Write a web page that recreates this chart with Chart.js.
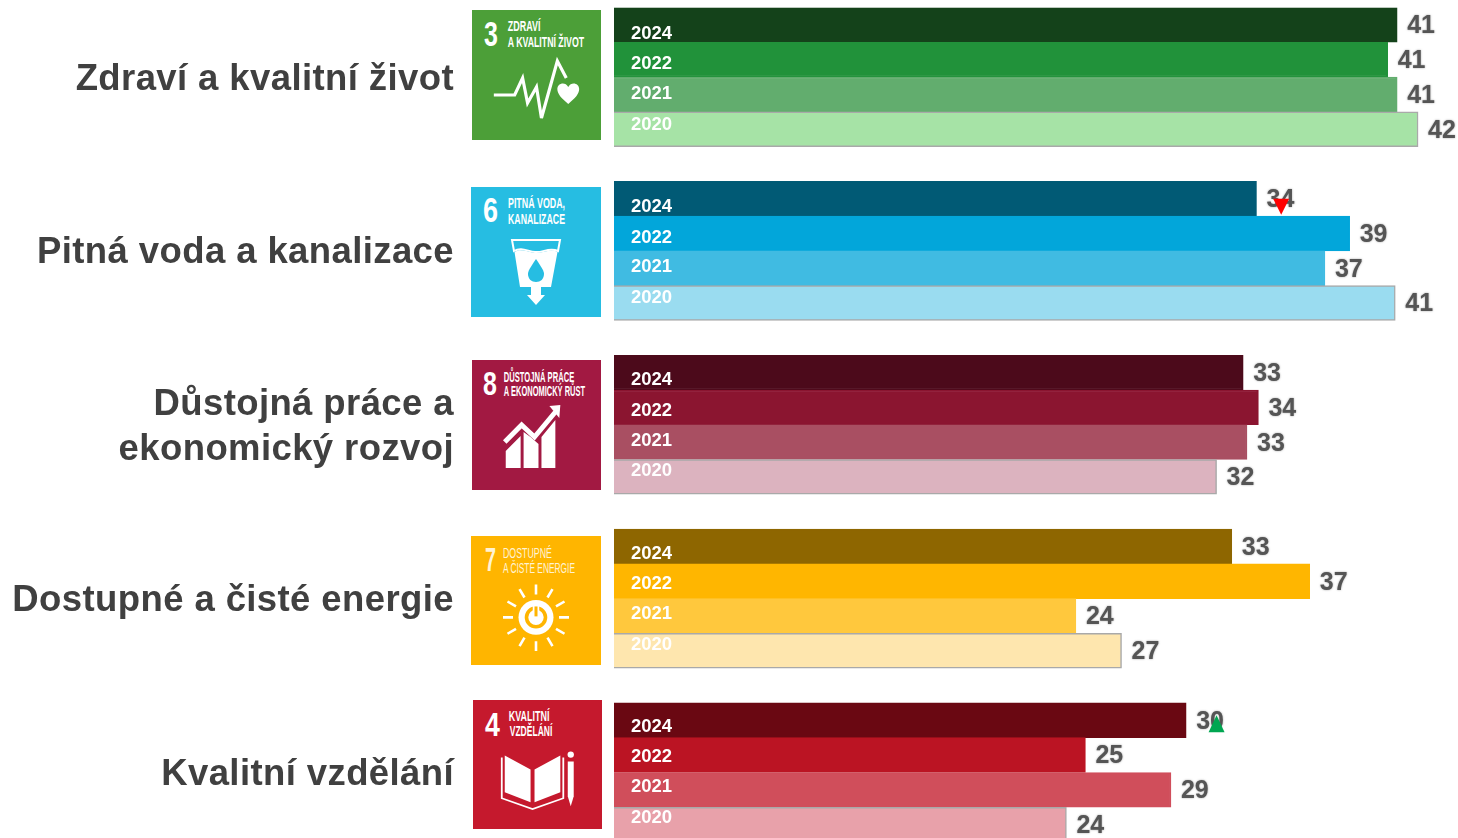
<!DOCTYPE html>
<html lang="cs">
<head>
<meta charset="utf-8">
<title>Cíle udržitelného rozvoje</title>
<script src="https://cdn.jsdelivr.net/npm/chart.js@4"></script>
<style>
  html, body { margin: 0; padding: 0; background: #fff; width: 1458px; height: 838px; overflow: hidden; }
  #wrap { position: relative; width: 1458px; height: 838px; overflow: hidden; }
  canvas { position: absolute; left: 0; top: 0; }
  .tile { position: absolute; }
  .tile text { font-family: "Liberation Sans", Arial, sans-serif; font-weight: 700; fill: #fff; }
</style>
</head>
<body>
<div id="wrap">
  <canvas id="sdgChart" width="1458" height="842"></canvas>

  <svg class="tile" style="left:472px;top:10px;width:129px;height:130px" viewBox="0 0 130 130" preserveAspectRatio="none">
    <rect width="130" height="130" fill="#4c9f38"/>
    <text x="12" y="36" font-size="35" textLength="14" lengthAdjust="spacingAndGlyphs">3</text>
    <text x="36" y="21" font-size="15" textLength="33" lengthAdjust="spacingAndGlyphs">ZDRAVÍ</text>
    <text x="36" y="37" font-size="15" textLength="77" lengthAdjust="spacingAndGlyphs">A KVALITNÍ ŽIVOT</text>
    <polyline points="22,85 43,85 51,68 56,93 65,77 70,108 86,51 95,68" fill="none" stroke="#fff" stroke-width="3.2"/>
    <path d="M97 94 C90 88 86 84 86 79 C86 73 94 71 97 77 C100 71 108 73 108 79 C108 84 104 88 97 94Z" fill="#fff"/>
  </svg>

  <svg class="tile" style="left:471px;top:187px;width:130px;height:130px" viewBox="0 0 130 130" preserveAspectRatio="none">
    <rect width="130" height="130" fill="#26bde2"/>
    <text x="12" y="35" font-size="35" textLength="15" lengthAdjust="spacingAndGlyphs">6</text>
    <text x="37" y="21" font-size="14.5" textLength="57" lengthAdjust="spacingAndGlyphs">PITNÁ VODA,</text>
    <text x="37" y="36.500" font-size="14.5" textLength="57" lengthAdjust="spacingAndGlyphs">KANALIZACE</text>
    <path d="M41 53 H89 L87 64 C78 60 72 66 64 65 C56 64 50 60 43 64Z" fill="none" stroke="#fff" stroke-width="2"/>
    <path d="M43.5 65 C50 61 56 65 64 66 C72 67 78 61 86.5 65 L80 100 H49Z" fill="#fff"/>
    <path d="M65 72 C59 81 57 84 57 87 C57 92 60.500 95 65 95 C69.500 95 73 92 73 87 C73 84 71 81 65 72Z" fill="#26bde2"/>
    <path d="M60 100 H70 V108 H74 L65 118 L56 108 H60Z" fill="#fff"/>
  </svg>

  <svg class="tile" style="left:472px;top:360px;width:129px;height:130px" viewBox="0 0 130 130" preserveAspectRatio="none">
    <rect width="130" height="130" fill="#a21942"/>
    <text x="11" y="35" font-size="33" textLength="14" lengthAdjust="spacingAndGlyphs">8</text>
    <text x="32" y="22" font-size="15" textLength="71" lengthAdjust="spacingAndGlyphs">DŮSTOJNÁ PRÁCE</text>
    <text x="32" y="36.500" font-size="15" textLength="82" lengthAdjust="spacingAndGlyphs">A EKONOMICKÝ RŮST</text>
    <polyline points="33,82 50,65 63,77 84,52" fill="none" stroke="#fff" stroke-width="5"/>
    <path d="M78 46 L89 45 L88 58Z" fill="#fff"/>
    <path d="M34 108 H49 V76 L34 91Z M52 108 H67 V84 L59 77 L52 72Z M70 108 H84 V60 L70 77Z" fill="#fff"/>
  </svg>

  <svg class="tile" style="left:471px;top:536px;width:130px;height:129px" viewBox="0 0 130 130" preserveAspectRatio="none">
    <rect width="130" height="130" fill="#ffb500"/>
    <text x="14" y="35" font-size="33" textLength="11" lengthAdjust="spacingAndGlyphs" style="fill:#fff3d4">7</text>
    <text x="32" y="22" font-size="14.5" textLength="49" lengthAdjust="spacingAndGlyphs" style="fill:#fff3d4;font-weight:400">DOSTUPNÉ</text>
    <text x="32" y="37.500" font-size="14.5" textLength="72" lengthAdjust="spacingAndGlyphs" style="fill:#fff3d4;font-weight:400">A ČISTÉ ENERGIE</text>
    <g stroke="#fff" stroke-width="2.6">
      <path d="M65 49 V59 M65 106 V116 M32 82 H42 M88 82 H98"/>
      <path d="M48.5 53.5 L53.5 62 M76.500 102.500 L81.500 111 M36.500 66 L45 71 M85 93.500 L93.500 98.500"/>
      <path d="M81.500 53.500 L76.500 62 M53.500 102.500 L48.500 111 M93.500 66 L85 71 M45 93.500 L36.500 98.500"/>
    </g>
    <circle cx="65" cy="82" r="17.500" fill="#fff"/>
    <circle cx="65" cy="82" r="9.500" fill="none" stroke="#ffb500" stroke-width="3.600"/>
    <path d="M65 70 V82" stroke="#fff" stroke-width="6.500"/>
    <path d="M65 71 V81" stroke="#ffb500" stroke-width="3"/>
  </svg>

  <svg class="tile" style="left:473px;top:700px;width:129px;height:129px" viewBox="0 0 130 130" preserveAspectRatio="none">
    <rect width="130" height="130" fill="#c5192d"/>
    <text x="12" y="36" font-size="34" textLength="15" lengthAdjust="spacingAndGlyphs">4</text>
    <text x="36" y="21" font-size="15" textLength="41" lengthAdjust="spacingAndGlyphs">KVALITNÍ</text>
    <text x="37" y="36" font-size="15" textLength="43" lengthAdjust="spacingAndGlyphs">VZDĚLÁNÍ</text>
    <path d="M32 56 L58 70 V103 L32 93Z M62 70 L88 56 V93 L62 103Z" fill="#fff"/>
    <path d="M29 58 V99 L60 110 L91 99 V58" fill="none" stroke="#fff" stroke-width="1.800"/>
    <circle cx="98.500" cy="55" r="3.200" fill="#fff"/>
    <path d="M95.500 62 H101.500 V97 L98.500 107 L95.500 97Z" fill="#fff"/>
  </svg>
</div>

<script>
const years = ['2024', '2022', '2021', '2020'];

// bar lengths, one list per goal, in the order of years
const zdravi = [41.2, 40.7, 41.2, 42.3];
const voda = [33.8, 38.7, 37.4, 41.1];
const prace = [33.1, 33.9, 33.3, 31.7];
const energie = [32.5, 36.6, 24.3, 26.7];
const vzdelani = [30.1, 24.8, 29.3, 23.8];
const goalValues = [zdravi, voda, prace, energie, vzdelani];

const goalNames = [
  ['Zdraví a kvalitní život'],
  ['Pitná voda a kanalizace'],
  ['Důstojná práce a', 'ekonomický rozvoj'],
  ['Dostupné a čisté energie'],
  ['Kvalitní vzdělání'],
];

const zdraviColors = ['#14421a', '#21923a', '#62ad6e', '#a6e3a6'];
const vodaColors = ['#015a75', '#02a6da', '#40bbe2', '#9adcf0'];
const praceColors = ['#4c0a1b', '#8b1530', '#a94f62', '#dcb3bf'];
const energieColors = ['#8e6600', '#ffb600', '#ffc83d', '#fee6ae'];
const vzdelaniColors = ['#6a0812', '#bb1423', '#d04e5b', '#e8a1aa'];
const goalColors = [zdraviColors, vodaColors, praceColors, energieColors, vzdelaniColors];

// group, row in the group, value on the x axis, direction
const trendMarks = [
  [1, 0, 35.1, 'down'],
  [4, 0, 31.7, 'up'],
];

// every goal gets its four rows and one empty row as the gap
const rowLabels = [];
const rowValues = [];
const rowColors = [];
const rowBorders = [];
goalValues.forEach((vals, g) => {
  vals.forEach((v, i) => {
    rowLabels.push(years[i]);
    rowValues.push(v);
    rowColors.push(goalColors[g][i]);
    // only the palest bars show a grey edge, the translucent one looked wrong on the dark bars
    rowBorders.push(i === 3 ? '#a9a9a9' : goalColors[g][i]);
  });
  if (g < goalValues.length - 1) {
    rowLabels.push('');
    rowValues.push(null);
    rowColors.push('transparent');
    rowBorders.push('transparent');
  }
});

const yearOffsets = [6.5, 2, -3, -7];

const textPlugin = {
  id: 'textPlugin',
  afterDraw(chart) {
    const c = chart.ctx;
    const x = chart.scales.x;
    const y = chart.scales.y;
    c.save();
    c.textBaseline = 'middle';

    goalValues.forEach((vals, g) => {
      const first = g * 5;
      vals.forEach((v, i) => {
        const row = y.getPixelForValue(first + i);
        c.textAlign = 'left';
        c.font = 'bold 18.5px "Liberation Sans", Arial, sans-serif';
        c.fillStyle = '#fff';
        // the year labels sit a little tighter than the bars
        c.fillText(years[i], 631, row + yearOffsets[i] + 2.5 - 0.6 * g);

        c.font = 'bold 25px "Liberation Sans", Arial, sans-serif';
        c.fillStyle = '#555';
        c.shadowColor = 'rgba(90,90,90,0.6)';
        c.shadowBlur = 2;
        c.fillText(String(Math.round(v)), x.getPixelForValue(v) + 10, row + 1.5);
        c.shadowBlur = 0;
      });

      const mid = (y.getPixelForValue(first + 1) + y.getPixelForValue(first + 2)) / 2;
      const lines = goalNames[g];
      c.textAlign = 'right';
      c.font = 'bold 36.5px "Liberation Sans", Arial, sans-serif';
      c.letterSpacing = '0.4px';
      c.fillStyle = '#404040';
      lines.forEach((line, i) => {
        c.fillText(line, 454, mid + 2.5 + (i - (lines.length - 1) / 2) * 45);
      });
      c.letterSpacing = '0px';
    });

    trendMarks.forEach(([g, i, v, dir]) => {
      const px = x.getPixelForValue(v);
      const row = y.getPixelForValue(g * 5 + i);
      c.beginPath();
      if (dir === 'down') {
        c.moveTo(px - 8, row);
        c.lineTo(px + 8, row);
        c.lineTo(px, row + 16);
        c.fillStyle = '#ff0000';
      } else {
        c.moveTo(px - 8, row + 12);
        c.lineTo(px + 8, row + 12);
        c.lineTo(px, row - 5);
        c.fillStyle = '#00a651';
      }
      c.closePath();
      c.fill();
    });
    c.restore();
  },
};

const chart = new Chart(document.getElementById('sdgChart'), {
  type: 'bar',
  data: {
    labels: rowLabels,
    datasets: [{
      data: rowValues,
      backgroundColor: rowColors,
      borderColor: rowBorders,
      borderWidth: 1.5,
      categoryPercentage: 1,
      barPercentage: 1,
    }],
  },
  options: {
    indexAxis: 'y',
    responsive: false,
    animation: false,
    layout: { padding: { left: 614, top: 7.5, right: 0, bottom: 0 } },
    plugins: { legend: { display: false }, tooltip: { enabled: false } },
    scales: {
      x: { display: false, min: 0, max: 44.4 },
      y: { display: false },
    },
  },
  plugins: [textPlugin],
});
</script>
</body>
</html>
